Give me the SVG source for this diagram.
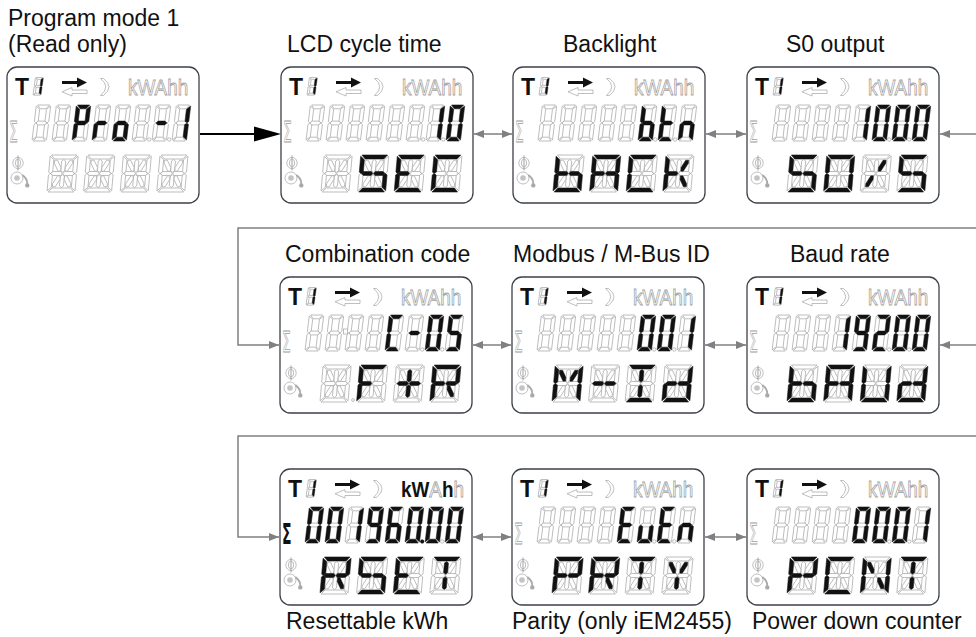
<svg xmlns="http://www.w3.org/2000/svg" xmlns:xlink="http://www.w3.org/1999/xlink" width="976" height="637" viewBox="0 0 976 637">
<style>
.pn{fill:#fff;stroke:#3c424a;stroke-width:1.3}
.off{fill:#fff;stroke:#a9a9a9;stroke-width:0.75}
.sm{stroke-width:1.4}
.on{fill:#111;stroke:#111;stroke-width:0.35}
.ttl{font-family:"Liberation Sans",Arial,sans-serif;font-size:23px;fill:#111}
.gt{font-family:"Liberation Sans",Arial,sans-serif;fill:#fff;stroke:#a0a0a0;stroke-width:0.8}
.bt{font-family:"Liberation Sans",Arial,sans-serif;fill:#111}
.sg{font-family:"DejaVu Sans",sans-serif;font-size:28px}
.gl{stroke:#808080;stroke-width:1.5;fill:none}
</style>
<defs>
<marker id="ah" viewBox="0 0 10 8" refX="10" refY="4" markerWidth="10" markerHeight="8" markerUnits="userSpaceOnUse" orient="auto-start-reverse"><path d="M0,0 L10,4 L0,8 Z" fill="#808080"/></marker>
<path id="a7" d="M1.2,0 H13.2 L10.1,3.8 H4.3 Z"/>
<path id="b7" d="M14.4,1.1 V16.6 L12.9,17.8 L10.6,16.4 V4.2 Z"/>
<path id="c7" d="M14.4,19.4 V34.9 L10.6,31.8 V19.6 L12.9,18.2 Z"/>
<path id="d7s" d="M1.2,36 L4.3,32.2 H10.1 L13.2,36 Z"/>
<path id="e7" d="M0,19.4 L1.5,18.2 L3.8,19.6 V31.8 L0,34.9 Z"/>
<path id="f7" d="M0,1.1 L3.8,4.2 V16.4 L1.5,17.8 L0,16.6 Z"/>
<path id="g7" d="M1.8,18 L3.8,16.1 H10.6 L12.6,18 L10.6,19.9 H3.8 Z"/>
<g id="d7" transform="translate(4.4,0) skewX(-7)"><use href="#a7"/><use href="#b7"/><use href="#c7"/><use href="#d7s"/><use href="#e7"/><use href="#f7"/><use href="#g7"/></g>
<g id="n0" transform="translate(4.4,0) skewX(-7)"><use href="#a7"/><use href="#b7"/><use href="#c7"/><use href="#d7s"/><use href="#e7"/><use href="#f7"/></g>
<g id="n1" transform="translate(4.4,0) skewX(-7)"><use href="#b7"/><use href="#c7"/></g>
<g id="n2" transform="translate(4.4,0) skewX(-7)"><use href="#a7"/><use href="#b7"/><use href="#g7"/><use href="#e7"/><use href="#d7s"/></g>
<g id="n5" transform="translate(4.4,0) skewX(-7)"><use href="#a7"/><use href="#f7"/><use href="#g7"/><use href="#c7"/><use href="#d7s"/></g>
<g id="n6" transform="translate(4.4,0) skewX(-7)"><use href="#a7"/><use href="#f7"/><use href="#g7"/><use href="#e7"/><use href="#c7"/><use href="#d7s"/></g>
<g id="n9" transform="translate(4.4,0) skewX(-7)"><use href="#a7"/><use href="#b7"/><use href="#c7"/><use href="#d7s"/><use href="#f7"/><use href="#g7"/></g>
<g id="nP" transform="translate(4.4,0) skewX(-7)"><use href="#a7"/><use href="#b7"/><use href="#e7"/><use href="#f7"/><use href="#g7"/></g>
<g id="nr" transform="translate(4.4,0) skewX(-7)"><use href="#e7"/><use href="#g7"/></g>
<g id="no" transform="translate(4.4,0) skewX(-7)"><use href="#c7"/><use href="#d7s"/><use href="#e7"/><use href="#g7"/></g>
<g id="nm" transform="translate(4.4,0) skewX(-7)"><use href="#g7"/></g>
<g id="nb" transform="translate(4.4,0) skewX(-7)"><use href="#c7"/><use href="#d7s"/><use href="#e7"/><use href="#f7"/><use href="#g7"/></g>
<g id="nt" transform="translate(4.4,0) skewX(-7)"><use href="#d7s"/><use href="#e7"/><use href="#f7"/><use href="#g7"/></g>
<g id="nn" transform="translate(4.4,0) skewX(-7)"><use href="#c7"/><use href="#e7"/><use href="#g7"/></g>
<g id="nC" transform="translate(4.4,0) skewX(-7)"><use href="#a7"/><use href="#d7s"/><use href="#e7"/><use href="#f7"/></g>
<g id="nE" transform="translate(4.4,0) skewX(-7)"><use href="#a7"/><use href="#d7s"/><use href="#e7"/><use href="#f7"/><use href="#g7"/></g>
<g id="nu" transform="translate(4.4,0) skewX(-7)"><use href="#c7"/><use href="#d7s"/><use href="#e7"/></g>
<path id="qa" d="M1.2,0 H26.8 L23.3,4 H4.7 Z"/>
<path id="qb" d="M28,1.2 V17 L26.4,18.5 L24,17 V4.7 Z"/>
<path id="qc" d="M28,20 V35.8 L24,32.3 V20 L26.4,18.5 Z"/>
<path id="qd" d="M1.2,37 L4.7,33 H23.3 L26.8,37 Z"/>
<path id="qe" d="M0,20 L1.6,18.5 L4,20 V32.3 L0,35.8 Z"/>
<path id="qf" d="M0,1.2 L4,4.7 V17 L1.6,18.5 L0,17 Z"/>
<path id="qg1" d="M2.2,18.5 L4.3,16.5 H12.1 L13.7,18.5 L12.1,20.5 H4.3 Z"/>
<path id="qg2" d="M14.3,18.5 L15.9,16.5 H23.7 L25.8,18.5 L23.7,20.5 H15.9 Z"/>
<path id="qi" d="M14,4.5 L16,6.1 V15.6 L14,17.3 L12,15.6 V6.1 Z"/>
<path id="ql" d="M14,19.7 L16,21.4 V30.9 L14,32.5 L12,30.9 V21.4 Z"/>
<path id="qh" d="M4.9,5.2 H7.8 L11.8,12.5 V16.2 H9.3 L4.9,8.3 Z"/>
<path id="qj" d="M23.1,5.2 H20.2 L16.2,12.5 V16.2 H18.7 L23.1,8.3 Z"/>
<path id="qk" d="M4.9,31.8 H7.8 L11.8,24.5 V20.8 H9.3 L4.9,28.7 Z"/>
<path id="qm" d="M23.1,31.8 H20.2 L16.2,24.5 V20.8 H18.7 L23.1,28.7 Z"/>
<g id="d14" transform="translate(3.2,0) skewX(-5)"><use href="#qa"/><use href="#qb"/><use href="#qc"/><use href="#qd"/><use href="#qe"/><use href="#qf"/><use href="#qg1"/><use href="#qg2"/><use href="#qi"/><use href="#ql"/><use href="#qh"/><use href="#qj"/><use href="#qk"/><use href="#qm"/></g>
<g id="kS" transform="translate(3.2,0) skewX(-5)"><use href="#qa"/><use href="#qf"/><use href="#qg1"/><use href="#qg2"/><use href="#qc"/><use href="#qd"/></g>
<g id="kE" transform="translate(3.2,0) skewX(-5)"><use href="#qa"/><use href="#qf"/><use href="#qe"/><use href="#qd"/><use href="#qg1"/></g>
<g id="kC" transform="translate(3.2,0) skewX(-5)"><use href="#qa"/><use href="#qf"/><use href="#qe"/><use href="#qd"/></g>
<g id="kb" transform="translate(3.2,0) skewX(-5)"><use href="#qf"/><use href="#qe"/><use href="#qd"/><use href="#qc"/><use href="#qg1"/><use href="#qg2"/></g>
<g id="kA" transform="translate(3.2,0) skewX(-5)"><use href="#qa"/><use href="#qb"/><use href="#qc"/><use href="#qe"/><use href="#qf"/><use href="#qg1"/><use href="#qg2"/></g>
<g id="kK" transform="translate(3.2,0) skewX(-5)"><use href="#qf"/><use href="#qe"/><use href="#qg1"/><use href="#qj"/><use href="#qm"/></g>
<g id="kO" transform="translate(3.2,0) skewX(-5)"><use href="#qa"/><use href="#qb"/><use href="#qc"/><use href="#qd"/><use href="#qe"/><use href="#qf"/></g>
<g id="kSl" transform="translate(3.2,0) skewX(-5)"><use href="#qj"/><use href="#qk"/></g>
<g id="kF" transform="translate(3.2,0) skewX(-5)"><use href="#qa"/><use href="#qf"/><use href="#qe"/><use href="#qg1"/></g>
<g id="kPl" transform="translate(3.2,0) skewX(-5)"><use href="#qg1"/><use href="#qg2"/><use href="#qi"/><use href="#ql"/></g>
<g id="kR" transform="translate(3.2,0) skewX(-5)"><use href="#qa"/><use href="#qb"/><use href="#qf"/><use href="#qe"/><use href="#qg1"/><use href="#qg2"/><use href="#qm"/></g>
<g id="kM" transform="translate(3.2,0) skewX(-5)"><use href="#qf"/><use href="#qe"/><use href="#qb"/><use href="#qc"/><use href="#qh"/><use href="#qj"/></g>
<g id="kMi" transform="translate(3.2,0) skewX(-5)"><use href="#qg1"/><use href="#qg2"/></g>
<g id="kI" transform="translate(3.2,0) skewX(-5)"><use href="#qa"/><use href="#qd"/><use href="#qi"/><use href="#ql"/></g>
<g id="kd" transform="translate(3.2,0) skewX(-5)"><use href="#qb"/><use href="#qc"/><use href="#qd"/><use href="#qe"/><use href="#qg1"/><use href="#qg2"/></g>
<g id="kU" transform="translate(3.2,0) skewX(-5)"><use href="#qb"/><use href="#qc"/><use href="#qd"/><use href="#qe"/><use href="#qf"/></g>
<g id="kT" transform="translate(3.2,0) skewX(-5)"><use href="#qa"/><use href="#qi"/><use href="#ql"/></g>
<g id="kP" transform="translate(3.2,0) skewX(-5)"><use href="#qa"/><use href="#qb"/><use href="#qf"/><use href="#qe"/><use href="#qg1"/><use href="#qg2"/></g>
<g id="kY" transform="translate(3.2,0) skewX(-5)"><use href="#qh"/><use href="#qj"/><use href="#ql"/></g>
<g id="kN" transform="translate(3.2,0) skewX(-5)"><use href="#qf"/><use href="#qe"/><use href="#qb"/><use href="#qc"/><use href="#qh"/><use href="#qm"/></g>
<g id="lcd">
<rect class="pn" x="0" y="0" width="192" height="136" rx="10"/>
<use href="#d7" class="off sm" transform="translate(26,10.5) scale(0.55,0.49)"/>
<use href="#n1" class="on" transform="translate(26,10.5) scale(0.55,0.49)"/>
<path d="M55,14 H70 V10.5 L80,15.5 L70,20.5 V17 H55 Z" fill="#111"/>
<path d="M80,23 H65 V20.5 L55,24.8 L65,29 V26.5 H80 Z" class="off"/>
<path d="M93.5,11.5 Q104,19.5 93.5,28.5 L96.5,28.5 Q107.5,19.5 96.5,11.5 Z" class="off"/>
<ellipse cx="11" cy="96" rx="5.2" ry="5.6" class="off"/>
<ellipse cx="11" cy="96" rx="2.6" ry="4" class="off"/>
<line x1="11" y1="88.5" x2="11" y2="103.5" stroke="#a9a9a9" stroke-width="1.1"/>
<circle cx="10" cy="111" r="6" class="off"/>
<circle cx="10" cy="111" r="2.8" fill="#c4c4c4"/>
<path d="M15.3,108 Q20.5,111.5 20.2,117" fill="none" stroke="#a9a9a9" stroke-width="1.8"/>
<circle cx="20.3" cy="118.4" r="2.2" fill="#a9a9a9"/>
<use href="#d7" class="off" x="25" y="38"/>
<use href="#d7" class="off" x="45" y="38"/>
<use href="#d7" class="off" x="65" y="38"/>
<use href="#d7" class="off" x="85" y="38"/>
<use href="#d7" class="off" x="105" y="38"/>
<use href="#d7" class="off" x="125" y="38"/>
<use href="#d7" class="off" x="145" y="38"/>
<use href="#d7" class="off" x="165" y="38"/>
<circle cx="142.2" cy="72.5" r="1.7" class="off"/>
<circle cx="162.2" cy="72.5" r="1.7" class="off"/>
<use href="#d14" class="off" x="40" y="88"/>
<use href="#d14" class="off" x="76.6" y="88"/>
<use href="#d14" class="off" x="113.2" y="88"/>
<use href="#d14" class="off" x="149.8" y="88"/>
</g>
</defs>

<g id="connectors">
<line x1="200" y1="134" x2="258" y2="134" stroke="#000" stroke-width="2"/>
<polygon points="254,126.5 281,134 254,141.5" fill="#000"/>
<line class="gl" x1="474" y1="134" x2="512" y2="134" marker-start="url(#ah)" marker-end="url(#ah)"/>
<line class="gl" x1="706" y1="134" x2="746" y2="134" marker-start="url(#ah)" marker-end="url(#ah)"/>
<line class="gl" x1="976" y1="134" x2="940" y2="134" marker-end="url(#ah)"/>
<polyline class="gl" points="976,228 238,228 238,345 279,345" marker-end="url(#ah)"/>
<line class="gl" x1="473" y1="345" x2="511" y2="345" marker-start="url(#ah)" marker-end="url(#ah)"/>
<line class="gl" x1="705" y1="345" x2="746" y2="345" marker-start="url(#ah)" marker-end="url(#ah)"/>
<line class="gl" x1="976" y1="345" x2="940" y2="345" marker-end="url(#ah)"/>
<polyline class="gl" points="976,436 238,436 238,537 279,537" marker-end="url(#ah)"/>
<line class="gl" x1="473" y1="537" x2="511" y2="537" marker-start="url(#ah)" marker-end="url(#ah)"/>
<line class="gl" x1="705" y1="537" x2="746" y2="537" marker-start="url(#ah)" marker-end="url(#ah)"/>
</g>

<g id="node-program-mode">
<text class="ttl" x="8" y="26">Program mode 1</text>
<text class="ttl" x="8" y="52">(Read only)</text>
<g transform="translate(7,67)">
<use href="#lcd"/>
<text x="8" y="28" class="bt" font-size="23" font-weight="bold">T</text>
<text transform="translate(121,28) scale(0.86,1)" class="gt" font-size="22">kWAhh</text>
<text transform="translate(2,75) scale(0.5,1)" class="gt sg">Σ</text>
<use href="#nP" class="on" x="65" y="38"/>
<use href="#nr" class="on" x="85" y="38"/>
<use href="#no" class="on" x="105" y="38"/>
<use href="#nm" class="on" x="145" y="38"/>
<use href="#n1" class="on" x="165" y="38"/>
</g>
</g>

<g id="node-lcd-cycle">
<text class="ttl" x="287" y="52">LCD cycle time</text>
<g transform="translate(281,67)">
<use href="#lcd"/>
<text x="8" y="28" class="bt" font-size="23" font-weight="bold">T</text>
<text transform="translate(121,28) scale(0.86,1)" class="gt" font-size="22">kWAhh</text>
<text transform="translate(2,75) scale(0.5,1)" class="gt sg">Σ</text>
<use href="#n1" class="on" x="145" y="38"/>
<use href="#n0" class="on" x="165" y="38"/>
<use href="#kS" class="on" x="76.6" y="88"/>
<use href="#kE" class="on" x="113.2" y="88"/>
<use href="#kC" class="on" x="149.8" y="88"/>
</g>
</g>

<g id="node-backlight">
<text class="ttl" x="563" y="52">Backlight</text>
<g transform="translate(513,67)">
<use href="#lcd"/>
<text x="8" y="28" class="bt" font-size="23" font-weight="bold">T</text>
<text transform="translate(121,28) scale(0.86,1)" class="gt" font-size="22">kWAhh</text>
<text transform="translate(2,75) scale(0.5,1)" class="gt sg">Σ</text>
<use href="#nb" class="on" x="125" y="38"/>
<use href="#nt" class="on" x="145" y="38"/>
<use href="#nn" class="on" x="165" y="38"/>
<use href="#kb" class="on" x="40" y="88"/>
<use href="#kA" class="on" x="76.6" y="88"/>
<use href="#kC" class="on" x="113.2" y="88"/>
<use href="#kK" class="on" x="149.8" y="88"/>
</g>
</g>

<g id="node-s0-output">
<text class="ttl" x="786" y="52">S0 output</text>
<g transform="translate(747,67)">
<use href="#lcd"/>
<text x="8" y="28" class="bt" font-size="23" font-weight="bold">T</text>
<text transform="translate(121,28) scale(0.86,1)" class="gt" font-size="22">kWAhh</text>
<text transform="translate(2,75) scale(0.5,1)" class="gt sg">Σ</text>
<use href="#n1" class="on" x="105" y="38"/>
<use href="#n0" class="on" x="125" y="38"/>
<use href="#n0" class="on" x="145" y="38"/>
<use href="#n0" class="on" x="165" y="38"/>
<use href="#kS" class="on" x="40" y="88"/>
<use href="#kO" class="on" x="76.6" y="88"/>
<use href="#kSl" class="on" x="113.2" y="88"/>
<use href="#kS" class="on" x="149.8" y="88"/>
</g>
</g>

<g id="node-combination-code">
<text class="ttl" x="285" y="262">Combination code</text>
<g transform="translate(280,277)">
<use href="#lcd"/>
<text x="8" y="28" class="bt" font-size="23" font-weight="bold">T</text>
<text transform="translate(121,28) scale(0.86,1)" class="gt" font-size="22">kWAhh</text>
<text transform="translate(2,75) scale(0.5,1)" class="gt sg">Σ</text>
<rect x="63.5" y="52" width="4" height="5" class="off"/>
<circle cx="73" cy="123" r="1.4" class="off"/>
<use href="#nC" class="on" x="105" y="38"/>
<use href="#nm" class="on" x="125" y="38"/>
<use href="#n0" class="on" x="145" y="38"/>
<use href="#n5" class="on" x="165" y="38"/>
<use href="#kF" class="on" x="76.6" y="88"/>
<use href="#kPl" class="on" x="113.2" y="88"/>
<use href="#kR" class="on" x="149.8" y="88"/>
</g>
</g>

<g id="node-modbus-id">
<text class="ttl" x="513" y="262">Modbus / M-Bus ID</text>
<g transform="translate(512,277)">
<use href="#lcd"/>
<text x="8" y="28" class="bt" font-size="23" font-weight="bold">T</text>
<text transform="translate(121,28) scale(0.86,1)" class="gt" font-size="22">kWAhh</text>
<text transform="translate(2,75) scale(0.5,1)" class="gt sg">Σ</text>
<use href="#n0" class="on" x="125" y="38"/>
<use href="#n0" class="on" x="145" y="38"/>
<use href="#n1" class="on" x="165" y="38"/>
<use href="#kM" class="on" x="40" y="88"/>
<use href="#kMi" class="on" x="76.6" y="88"/>
<use href="#kI" class="on" x="113.2" y="88"/>
<use href="#kd" class="on" x="149.8" y="88"/>
</g>
</g>

<g id="node-baud-rate">
<text class="ttl" x="790" y="262">Baud rate</text>
<g transform="translate(747,277)">
<use href="#lcd"/>
<text x="8" y="28" class="bt" font-size="23" font-weight="bold">T</text>
<text transform="translate(121,28) scale(0.86,1)" class="gt" font-size="22">kWAhh</text>
<text transform="translate(2,75) scale(0.5,1)" class="gt sg">Σ</text>
<use href="#n1" class="on" x="85" y="38"/>
<use href="#n9" class="on" x="105" y="38"/>
<use href="#n2" class="on" x="125" y="38"/>
<use href="#n0" class="on" x="145" y="38"/>
<use href="#n0" class="on" x="165" y="38"/>
<use href="#kb" class="on" x="40" y="88"/>
<use href="#kA" class="on" x="76.6" y="88"/>
<use href="#kU" class="on" x="113.2" y="88"/>
<use href="#kd" class="on" x="149.8" y="88"/>
</g>
</g>

<g id="node-resettable-kwh">
<text class="ttl" x="286" y="629">Resettable kWh</text>
<g transform="translate(280,469)">
<use href="#lcd"/>
<text x="8" y="28" class="bt" font-size="23" font-weight="bold">T</text>
<text transform="translate(121,28) scale(0.86,1)" class="bt" font-size="22"><tspan font-weight="bold">kW</tspan><tspan class="gt">A</tspan><tspan font-weight="bold">h</tspan><tspan class="gt">h</tspan></text>
<text transform="translate(2,75) scale(0.5,1)" class="bt sg" font-weight="bold">Σ</text>
<use href="#n0" class="on" x="25" y="38"/>
<use href="#n0" class="on" x="45" y="38"/>
<use href="#n1" class="on" x="65" y="38"/>
<use href="#n9" class="on" x="85" y="38"/>
<use href="#n6" class="on" x="105" y="38"/>
<use href="#n0" class="on" x="125" y="38"/>
<use href="#n0" class="on" x="145" y="38"/>
<use href="#n0" class="on" x="165" y="38"/>
<circle cx="142.2" cy="72.5" r="1.9" fill="#111"/>
<use href="#kR" class="on" x="40" y="88"/>
<use href="#kS" class="on" x="76.6" y="88"/>
<use href="#kE" class="on" x="113.2" y="88"/>
<use href="#kT" class="on" x="149.8" y="88"/>
</g>
</g>

<g id="node-parity">
<text class="ttl" x="512" y="629">Parity (only iEM2455)</text>
<g transform="translate(512,469)">
<use href="#lcd"/>
<text x="8" y="28" class="bt" font-size="23" font-weight="bold">T</text>
<text transform="translate(121,28) scale(0.86,1)" class="gt" font-size="22">kWAhh</text>
<text transform="translate(2,75) scale(0.5,1)" class="gt sg">Σ</text>
<use href="#nE" class="on" x="105" y="38"/>
<use href="#nu" class="on" x="125" y="38"/>
<use href="#nE" class="on" x="145" y="38"/>
<use href="#nn" class="on" x="165" y="38"/>
<use href="#kP" class="on" x="40" y="88"/>
<use href="#kR" class="on" x="76.6" y="88"/>
<use href="#kT" class="on" x="113.2" y="88"/>
<use href="#kY" class="on" x="149.8" y="88"/>
</g>
</g>

<g id="node-power-down-counter">
<text class="ttl" x="752" y="629">Power down counter</text>
<g transform="translate(747,469)">
<use href="#lcd"/>
<text x="8" y="28" class="bt" font-size="23" font-weight="bold">T</text>
<text transform="translate(121,28) scale(0.86,1)" class="gt" font-size="22">kWAhh</text>
<text transform="translate(2,75) scale(0.5,1)" class="gt sg">Σ</text>
<use href="#n0" class="on" x="105" y="38"/>
<use href="#n0" class="on" x="125" y="38"/>
<use href="#n0" class="on" x="145" y="38"/>
<use href="#n1" class="on" x="165" y="38"/>
<use href="#kP" class="on" x="40" y="88"/>
<use href="#kC" class="on" x="76.6" y="88"/>
<use href="#kN" class="on" x="113.2" y="88"/>
<use href="#kT" class="on" x="149.8" y="88"/>
</g>
</g>
</svg>
